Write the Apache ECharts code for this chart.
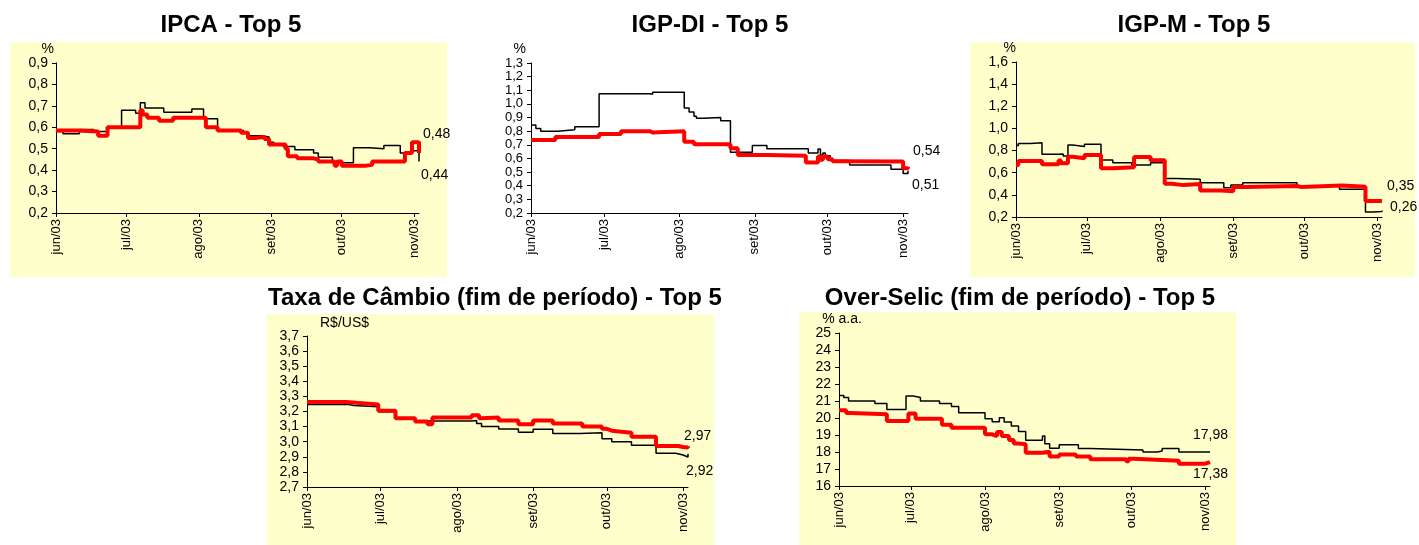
<!DOCTYPE html>
<html><head><meta charset="utf-8">
<script src="https://cdn.jsdelivr.net/npm/echarts@6/dist/echarts.min.js"></script>
<style>html,body{margin:0;padding:0;background:#fff}#c{width:1419px;height:545px}</style>
</head><body><div id="c"></div>
<script>
// ---- tick labels ----
const monthTickLabels = {'06':'jun/03','07':'jul/03','08':'ago/03','09':'set/03','10':'out/03','11':'nov/03'};
const firstDay = '2003-06-01', lastDay = '2003-11-03';

// ---- series data: [date (MM-DD), value], value holds until next date ----
// black = mercado, red = Top 5
const ipcaMercado = [['06-01',0.58],['06-04',0.57],['06-11',0.59],['06-17',0.58],['06-23',0.60],['06-29',0.68],['07-05',0.665],['07-07',0.715],['07-09',0.69],['07-17',0.67],['07-29',0.685],['08-03',0.64],['08-09',0.585],['08-20',0.575],['08-22',0.56],['08-28',0.555],['08-31',0.53],['09-02',0.52],['09-06',0.51],['09-11',0.495],['09-19',0.48],['09-21',0.46],['09-27',0.435],['10-06',0.505],['10-13',0.50],['10-19',0.515],['10-26',0.48],['10-31',0.49],['11-03',0.44]];
const ipcaTop5 = [['06-01',0.585],['06-10',0.58],['06-19',0.56],['06-23',0.60],['07-07',0.68],['07-08',0.66],['07-10',0.645],['07-15',0.63],['07-21',0.645],['08-04',0.60],['08-09',0.585],['08-19',0.575],['08-22',0.55],['08-25',0.555],['08-29',0.545],['08-31',0.52],['09-07',0.50],['09-08',0.465],['09-12',0.455],['09-19',0.45],['09-21',0.44],['09-28',0.42],['09-29',0.44],['10-01',0.42],['10-11',0.425],['10-14',0.44],['10-28',0.48],['10-31',0.53],['11-03',0.48]];

const igpdiMercado = [['06-01',0.845],['06-03',0.82],['06-05',0.80],['06-12',0.81],['06-19',0.833],['06-29',1.075],['07-20',1.07],['07-21',1.085],['08-03',0.97],['08-05',0.94],['08-07',0.91],['08-08',0.895],['08-11',0.90],['08-18',0.877],['08-22',0.645],['08-31',0.695],['09-06',0.672],['09-23',0.64],['09-27',0.67],['09-28',0.625],['09-29',0.64],['09-30',0.62],['10-02',0.585],['10-10',0.552],['10-27',0.52],['11-01',0.49],['11-03',0.51]];
const igpdiTop5 = [['06-01',0.735],['06-11',0.757],['06-29',0.78],['07-08',0.80],['07-20',0.79],['07-21',0.80],['08-03',0.723],['08-07',0.705],['08-22',0.675],['08-25',0.626],['09-06',0.62],['09-22',0.57],['09-27',0.615],['09-28',0.59],['09-29',0.615],['10-01',0.595],['10-03',0.58],['10-06',0.577],['11-01',0.528],['11-03',0.54]];

const igpmMercado = [['06-01',0.845],['06-02',0.864],['06-07',0.87],['06-12',0.767],['06-19',0.77],['06-21',0.75],['06-23',0.85],['06-25',0.836],['06-30',0.857],['07-07',0.715],['07-12',0.69],['07-20',0.67],['07-28',0.69],['08-03',0.548],['08-08',0.542],['08-18',0.51],['08-28',0.464],['08-31',0.49],['09-05',0.51],['09-28',0.48],['10-16',0.45],['10-27',0.245],['10-30',0.25],['11-03',0.258]];
const igpmTop5 = [['06-01',0.67],['06-02',0.705],['06-12',0.676],['06-19',0.71],['06-20',0.685],['06-23',0.745],['06-25',0.73],['06-30',0.76],['07-07',0.64],['07-12',0.65],['07-21',0.742],['07-28',0.712],['08-03',0.50],['08-06',0.488],['08-11',0.497],['08-18',0.44],['08-27',0.433],['09-01',0.47],['09-06',0.48],['09-28',0.47],['09-30',0.485],['10-17',0.473],['10-27',0.345],['11-03',0.35]];

const cambioMercado = [['06-01',3.247],['06-18',3.24],['06-20',3.232],['06-30',3.199],['07-07',3.155],['07-15',3.137],['08-07',3.14],['08-09',3.12],['08-11',3.10],['08-18',3.084],['08-26',3.062],['09-01',3.082],['09-09',3.055],['09-20',3.06],['09-29',3.02],['10-03',3.00],['10-11',2.976],['10-21',2.923],['10-29',2.912],['11-01',2.899],['11-03',2.92]];
const cambioTop5 = [['06-01',3.263],['06-17',3.258],['06-21',3.247],['06-30',3.205],['07-07',3.155],['07-15',3.133],['07-20',3.115],['07-22',3.161],['08-07',3.175],['08-10',3.155],['08-11',3.161],['08-18',3.14],['08-26',3.115],['09-01',3.14],['09-09',3.12],['09-21',3.10],['09-29',3.085],['10-01',3.073],['10-03',3.06],['10-11',3.033],['10-21',2.972],['10-30',2.965],['11-01',2.962],['11-03',2.97]];

const selicMercado = [['06-01',21.33],['06-03',21.2],['06-05',21.0],['06-16',20.86],['06-21',20.5],['06-29',21.29],['07-02',21.2],['07-05',21.0],['07-13',20.86],['07-18',20.67],['07-21',20.31],['08-01',19.96],['08-04',19.78],['08-07',20.02],['08-09',19.76],['08-12',19.53],['08-15',19.2],['08-18',18.69],['08-25',18.94],['08-26',18.49],['08-28',18.22],['09-01',18.43],['09-09',18.2],['09-14',18.12],['10-06',18.0],['10-12',18.06],['10-14',18.2],['10-21',18.0],['11-03',17.98]];
const selicTop5 = [['06-01',20.45],['06-04',20.3],['06-06',20.22],['06-21',19.82],['06-30',20.27],['07-03',19.96],['07-14',19.6],['07-18',19.43],['08-01',19.04],['08-04',18.94],['08-06',19.18],['08-08',18.94],['08-11',18.7],['08-13',18.5],['08-15',18.45],['08-18',17.96],['08-25',18.02],['08-28',17.73],['09-01',17.86],['09-08',17.73],['09-14',17.57],['09-29',17.45],['09-30',17.6],['10-02',17.49],['10-21',17.31],['11-01',17.41],['11-03',17.38]];

// ---- categories (daily) ----
const days = [];
for (let t = Date.parse(firstDay + 'T00:00:00Z'); t <= Date.parse(lastDay + 'T00:00:00Z'); t += 86400000) {
  days.push(new Date(t).toISOString().slice(5, 10));
}

const FONT = "'Liberation Sans', Arial, sans-serif";
const comma = (v, d) => v.toFixed(d).replace('.', ',');

const panels = [
  {title:'IPCA - Top 5', unit:'%', black:ipcaMercado, red:ipcaTop5, min:0.2, max:0.9, interval:0.1, dec:1, yfs:14,
   grid:{left:56, top:63, width:363, height:150}, box:[10,42,437,235], tx:231, ty:13,
   nameStyle:{align:'right', padding:[0,2,0,0]}, nameGap:12, redOff:[-4,-19], blackOff:[-6,14]},
  {title:'IGP-DI - Top 5', unit:'%', black:igpdiMercado, red:igpdiTop5, min:0.2, max:1.3, interval:0.1, dec:1, yfs:13,
   grid:{left:531, top:63, width:377, height:150}, box:null, tx:710, ty:13,
   nameStyle:{align:'right', padding:[0,5,0,0]}, nameGap:13, redOff:[-3,-15], blackOff:[-4,14]},
  {title:'IGP-M - Top 5', unit:'%', black:igpmMercado, red:igpmTop5, min:0.2, max:1.6, interval:0.2, dec:1, yfs:14,
   grid:{left:1016, top:62, width:366, height:155}, box:[970,42,445,235], tx:1194, ty:13,
   nameStyle:{align:'right', padding:[0,0,0,0]}, nameGap:10, redOff:[-3,-14], blackOff:[0,-3]},
  {title:'Taxa de Câmbio (fim de período) - Top 5', unit:'R$/US$', black:cambioMercado, red:cambioTop5, min:2.7, max:3.7, interval:0.1, dec:1, yfs:14,
   grid:{left:307, top:336, width:381, height:151}, box:[267,314,447,231], tx:495, ty:286,
   nameStyle:{align:'left', padding:[0,0,0,13]}, nameGap:13, redOff:[-12,-10], blackOff:[-10,17]},
  {title:'Over-Selic (fim de período) - Top 5', unit:'% a.a.', black:selicMercado, red:selicTop5, min:16, max:25, interval:1, dec:0, yfs:14,
   grid:{left:839, top:333, width:371, height:153}, box:[799,312,437,233], tx:1020, ty:286,
   nameStyle:{align:'center', padding:[0,0,0,6]}, nameGap:11, redOff:[-25,12], blackOff:[-25,-17]}
];

const isMonthStart = (idx, val) => val.slice(3) === '01';

const option = {
  animation: false,
  textStyle: {fontFamily: FONT},
  graphic: {elements: panels.filter(p => p.box).map(p => ({
    type:'rect', silent:true, z:-10, shape:{x:p.box[0], y:p.box[1], width:p.box[2], height:p.box[3]},
    style:{fill:'#FFFFCC'}
  }))},
  title: panels.map(p => ({text:p.title, left:p.tx, top:p.ty, textAlign:'center', padding:0,
    textStyle:{fontFamily:FONT, fontSize:24, fontWeight:'bold', color:'#000'}})),
  grid: panels.map(p => Object.assign({containLabel:false}, p.grid)),
  xAxis: panels.map((p, i) => ({
    type:'category', gridIndex:i, data:days, boundaryGap:false,
    axisLine:{lineStyle:{color:'#000', width:1}},
    axisTick:{show:true, interval:isMonthStart, length:4, lineStyle:{color:'#000'}},
    axisLabel:{interval:isMonthStart, rotate:90, margin:6, color:'#000', fontSize:13, fontFamily:FONT,
      formatter: v => monthTickLabels[v.slice(0,2)]},
    splitLine:{show:false}
  })),
  yAxis: panels.map((p, i) => ({
    type:'value', gridIndex:i, min:p.min, max:p.max, interval:p.interval,
    axisLine:{show:true, lineStyle:{color:'#000', width:1}},
    axisTick:{show:true, length:4, lineStyle:{color:'#000'}},
    axisLabel:{color:'#000', fontSize:p.yfs, lineHeight:12, margin:8, fontFamily:FONT,
      showMinLabel:true, showMaxLabel:true, hideOverlap:false, formatter: v => comma(v, p.dec)},
    splitLine:{show:false},
    name:p.unit, nameLocation:'end', nameGap:p.nameGap,
    nameTextStyle:Object.assign({color:'#000', fontSize:14, fontFamily:FONT, verticalAlign:'middle'}, p.nameStyle)
  })),
  series: panels.flatMap((p, i) => [
    {type:'line', name:'Mercado', xAxisIndex:i, yAxisIndex:i, data:p.black, step:'end', symbol:'none', z:2,
     lineStyle:{color:'#000', width:1.5},
     endLabel:{show:true, offset:p.blackOff, color:'#000', fontSize:14, fontFamily:FONT, formatter: q => comma(q.value[1], 2)}},
    {type:'line', name:'Top 5', xAxisIndex:i, yAxisIndex:i, data:p.red, step:'end', symbol:'none', z:3,
     lineStyle:{color:'#FF0000', width:4},
     endLabel:{show:true, offset:p.redOff, color:'#000', fontSize:14, fontFamily:FONT, formatter: q => comma(q.value[1], 2)}}
  ])
};

const chart = echarts.init(document.getElementById('c'), null, {renderer:'canvas'});
chart.setOption(option);
</script>
</body></html>
